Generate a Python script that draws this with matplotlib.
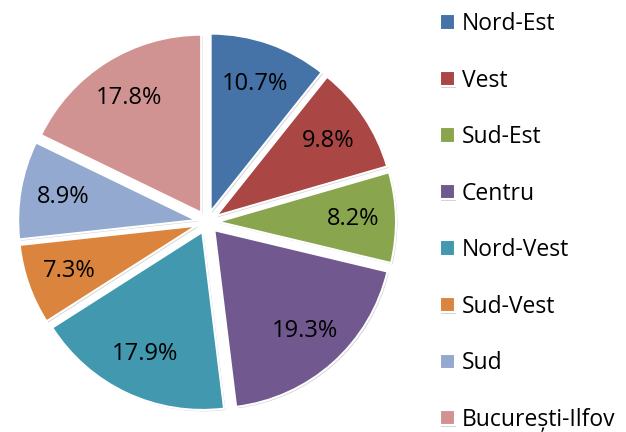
import matplotlib
matplotlib.use("Agg")
import matplotlib.pyplot as plt
import matplotlib.patheffects as pe

regions = ["Nord-Est", "Vest", "Sud-Est", "Centru", "Nord-Vest", "Sud-Vest", "Sud", "București-Ilfov"]
shares = [10.7, 9.8, 8.2, 19.3, 17.9, 7.3, 8.9, 17.8]
colors = ["#4572A7", "#AA4643", "#89A54E", "#71588F", "#4198AF", "#DB843D", "#93A9CF", "#D19392"]

plt.rcParams["font.family"] = ["Open Sans", "DejaVu Sans"]

fig = plt.figure(figsize=(6.26, 4.32), dpi=100)
ax = fig.add_axes([0, 0, 1, 1])

# exploded pie, clockwise from 12 o'clock
wedges, texts, autotexts = ax.pie(
    shares,
    colors=colors,
    startangle=90,
    counterclock=False,
    radius=178,
    center=(207, 210),
    explode=[11] * len(shares),
    autopct="%.1f%%",
    pctdistance=0.76,
    wedgeprops=dict(edgecolor="white", linewidth=1.5),
    textprops=dict(fontsize=17, color="black"),
    frame=True,
)
for w in wedges:
    w.set_path_effects([pe.SimplePatchShadow(offset=(1, -1), shadow_rgbFace="gray", alpha=0.35),
                        pe.Normal()])

ax.set_xlim(0, 626)
ax.set_ylim(0, 432)
ax.set_aspect("equal")
ax.axis("off")

ax.legend(wedges, regions, loc="upper left", bbox_to_anchor=(440 / 626, 1 - 12 / 432),
          frameon=False, fontsize=16.5, handlelength=0.65, handleheight=0.65,
          handletextpad=0.3, labelspacing=1.42, borderpad=0, borderaxespad=0)

fig.savefig("out.png", dpi=100)
